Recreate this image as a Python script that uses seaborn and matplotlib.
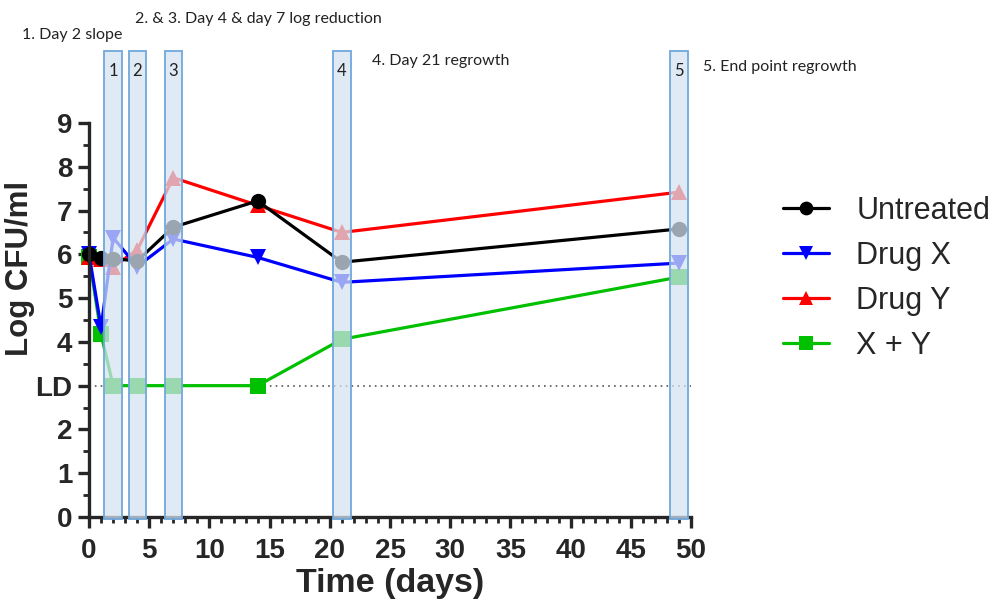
import matplotlib
matplotlib.use("Agg")
import matplotlib.pyplot as plt
import numpy as np
import pandas as pd
import seaborn as sns
from matplotlib.patches import Rectangle
from matplotlib.ticker import MultipleLocator

#
# Data
#
days = [0, 1, 2, 4, 7, 14, 21, 49]
untreated = [6.0, 5.92, 5.9, 5.85, 6.62, 7.22, 5.82, 6.58]
drug_x = [6.0, 4.33, 6.38, 5.72, 6.35, 5.93, 5.36, 5.8]
drug_y = [5.95, 5.9, 5.72, 6.1, 7.75, 7.12, 6.5, 7.42]
x_plus_y = [5.95, 4.17, 3.0, 3.0, 3.0, 3.0, 4.06, 5.48]

series_names = ["Untreated", "Drug X", "Drug Y", "X + Y"]
series_values = [untreated, drug_x, drug_y, x_plus_y]
series_colors = ["#000000", "#0000ff", "#ff0000", "#00c000"]
series_markers = ["o", "v", "^", "s"]

box_days = [2, 4, 7, 21, 49]
box_labels = ["1", "2", "3", "4", "5"]

notes = [
    "1. Day 2 slope",
    "2. & 3. Day 4 & day 7 log reduction",
    "4. Day 21 regrowth",
    "5. End point regrowth",
]

y_ticks = [0, 1, 2, 3, 4, 5, 6, 7, 8, 9]
y_tick_labels = ["0", "1", "2", "LD", "4", "5", "6", "7", "8", "9"]
limit_of_detection = 3

#
# Long-form table for seaborn
#
df = pd.DataFrame(
    {
        "day": np.tile(days, len(series_names)),
        "cfu": np.concatenate(series_values),
        "group": np.repeat(series_names, len(days)),
    }
)

sns.set_style("ticks")
plt.rcParams["font.family"] = ["Liberation Sans", "DejaVu Sans"]

fig = plt.figure(figsize=(9.96, 6.08), dpi=100)
ax = fig.add_axes([0.0894, 0.1497, 0.6044, 0.648])

sns.lineplot(
    data=df,
    x="day",
    y="cfu",
    hue="group",
    style="group",
    hue_order=series_names,
    style_order=series_names,
    palette=dict(zip(series_names, series_colors)),
    markers=dict(zip(series_names, series_markers)),
    dashes=False,
    sort=False,
    linewidth=2.3,
    markersize=11,
    markeredgewidth=0,
    ax=ax,
)

# untreated on top, combination at the bottom
n_series = len(series_names)
for i, line in enumerate(ax.lines[:n_series]):
    line.set_clip_on(False)
    line.set_zorder(3 + (n_series - i) * 0.1)

#
# Limit of detection
#
ax.axhline(
    limit_of_detection,
    color="#555555",
    linestyle=(0, (1, 2.5)),
    linewidth=1.2,
    zorder=1,
)

#
# Highlight boxes (drawn over data, semi-transparent)
#
half_width = 0.72
for d, lab in zip(box_days, box_labels):
    ax.add_patch(
        Rectangle(
            (d - half_width, -0.05),
            2 * half_width,
            10.7,
            facecolor="#d5e3f1",
            edgecolor="none",
            alpha=0.73,
            clip_on=False,
            zorder=5,
        )
    )
    ax.add_patch(
        Rectangle(
            (d - half_width, -0.05),
            2 * half_width,
            10.7,
            facecolor="none",
            edgecolor="#6fa8dc",
            linewidth=1.3,
            clip_on=False,
            zorder=6,
        )
    )
    ax.text(
        d,
        10.18,
        lab,
        ha="center",
        va="center",
        fontsize=12,
        family=["Lato", "DejaVu Sans"],
        color="#222222",
        zorder=7,
    )

#
# Axes styling
#
ax.set_xlim(0, 50)
ax.set_ylim(0, 9)
ax.xaxis.set_major_locator(MultipleLocator(5))
ax.xaxis.set_minor_locator(MultipleLocator(1))
ax.set_yticks(y_ticks)
ax.set_yticklabels(y_tick_labels)
ax.yaxis.set_minor_locator(MultipleLocator(0.5))

for side in ["left", "bottom"]:
    ax.spines[side].set_linewidth(2.4)
    ax.spines[side].set_zorder(4)
sns.despine(ax=ax)

ax.tick_params(
    which="major", length=8, width=2.4, labelsize=20, pad=4, direction="out"
)
ax.tick_params(axis="x", which="major", pad=7)
ax.tick_params(which="minor", length=4, width=2.0, direction="out")
for lab in ax.get_xticklabels() + ax.get_yticklabels():
    lab.set_fontweight("bold")

ax.set_xlabel("Time (days)", fontsize=24.5, fontweight="bold", labelpad=3)
ax.set_ylabel("Log CFU/ml", fontsize=22.5, fontweight="bold")
ax.yaxis.set_label_coords(-0.09, 0.632)

#
# Legend
#
handles, labels = ax.get_legend_handles_labels()
leg = ax.legend(
    handles,
    labels,
    loc="center left",
    bbox_to_anchor=(1.107, 0.605),
    frameon=False,
    fontsize=22,
    handlelength=1.5,
    handletextpad=0.9,
    labelspacing=0.49,
    markerscale=0.9,
)

#
# Annotations above the plot
#
note_pos = [(22, 35), (135, 19), (372, 61), (703, 67)]
for txt, (px, py) in zip(notes, note_pos):
    fig.text(
        px / 996,
        1 - py / 608,
        txt,
        ha="left",
        va="center",
        fontsize=11.5,
        family=["Lato", "DejaVu Sans"],
        color="#222222",
    )

plt.savefig("out.png", dpi=100)
plt.close()
